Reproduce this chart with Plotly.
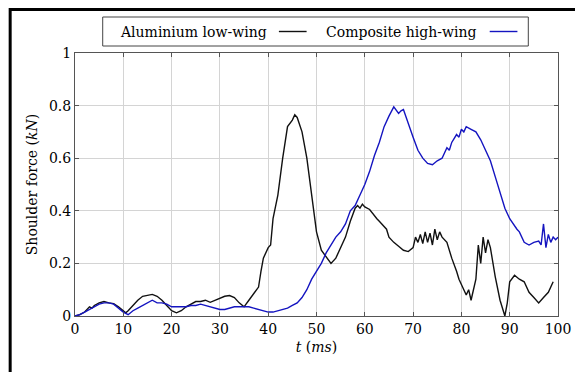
import plotly.graph_objects as go

# Aluminium low-wing (black)
t_al = [0, 1, 2, 3, 3.5, 4, 5, 6, 7, 8, 9, 10, 10.5, 11, 12, 13, 14, 15, 16, 17, 18, 19, 20, 21, 22, 23, 24,
        25, 26, 27, 28, 29, 30, 31, 32, 33, 34, 35, 36, 37, 38, 38.5, 39, 40, 40.5, 41, 42, 43, 44, 45, 45.5,
        46, 47, 48, 49, 50, 51, 52, 53, 54, 55, 56, 57, 58, 58.5, 59, 59.5, 60, 61, 62, 62.5, 63, 64, 64.5,
        65, 66, 67, 68, 69, 70, 70.5, 71, 71.5, 72, 72.5, 73, 73.5, 74, 74.5, 75, 75.5, 76, 77, 78, 79, 79.5,
        80, 81, 81.5, 82, 83, 83.5, 84, 84.5, 85, 85.5, 86, 87, 88, 89, 89.5, 90, 91, 92, 93, 94, 95, 96, 97,
        98, 99, 100]
v_al = [0.0, 0.005, 0.015, 0.035, 0.03, 0.04, 0.05, 0.055, 0.05, 0.047, 0.035, 0.02, 0.012, 0.02, 0.04, 0.06,
        0.075, 0.078, 0.082, 0.075, 0.06, 0.04, 0.02, 0.012, 0.02, 0.035, 0.045, 0.055, 0.055, 0.06, 0.052,
        0.06, 0.07, 0.075, 0.078, 0.07, 0.05, 0.035, 0.06, 0.085, 0.11, 0.17, 0.22, 0.26, 0.27, 0.37, 0.46,
        0.6, 0.72, 0.745, 0.765, 0.755, 0.7, 0.6, 0.45, 0.32, 0.25, 0.225, 0.2, 0.22, 0.26, 0.3, 0.36, 0.41,
        0.42, 0.41, 0.425, 0.415, 0.405, 0.38, 0.37, 0.36, 0.34, 0.33, 0.3, 0.28, 0.265, 0.25, 0.245, 0.26,
        0.3, 0.28, 0.31, 0.275, 0.32, 0.28, 0.315, 0.27, 0.33, 0.29, 0.32, 0.3, 0.28, 0.22, 0.17, 0.14,
        0.12, 0.08, 0.1, 0.06, 0.14, 0.27, 0.2, 0.3, 0.24, 0.29, 0.26, 0.15, 0.06, 0.0, 0.05, 0.13, 0.155,
        0.14, 0.13, 0.09, 0.07, 0.05, 0.07, 0.09, 0.13]

# Composite high-wing (blue)
t_co = [0, 1, 2, 3, 4, 5, 6, 7, 8, 9, 10, 11, 12, 13, 14, 15, 16, 17, 18, 19, 20, 21, 22, 23, 24, 25, 26,
        27, 28, 29, 30, 31, 32, 33, 34, 35, 36, 37, 38, 39, 40, 41, 42, 43, 44, 45, 46, 47, 48, 49, 50, 51,
        52, 53, 54, 55, 56, 57, 58, 59, 60, 61, 62, 63, 64, 65, 66, 67, 67.5, 68, 69, 70, 71, 72, 73, 74,
        75, 76, 77, 77.5, 78, 79, 79.5, 80, 80.5, 81, 82, 83, 84, 85, 86, 87, 88, 89, 90, 91, 91.5, 92, 93,
        94, 95, 96, 96.5, 97, 97.5, 98, 98.5, 99, 99.5, 100]
v_co = [0.0, 0.005, 0.015, 0.025, 0.035, 0.045, 0.05, 0.05, 0.045, 0.03, 0.015, 0.005, 0.02, 0.03, 0.04,
        0.05, 0.06, 0.05, 0.05, 0.045, 0.035, 0.035, 0.035, 0.035, 0.04, 0.04, 0.045, 0.04, 0.035, 0.03,
        0.025, 0.025, 0.03, 0.035, 0.035, 0.035, 0.035, 0.03, 0.025, 0.02, 0.015, 0.015, 0.02, 0.025, 0.03,
        0.04, 0.05, 0.07, 0.1, 0.14, 0.17, 0.2, 0.24, 0.27, 0.3, 0.32, 0.35, 0.4, 0.42, 0.46, 0.5, 0.55,
        0.61, 0.66, 0.72, 0.76, 0.795, 0.77, 0.78, 0.785, 0.73, 0.68, 0.63, 0.6, 0.58, 0.575, 0.59, 0.6,
        0.64, 0.63, 0.66, 0.69, 0.68, 0.71, 0.7, 0.72, 0.71, 0.7, 0.67, 0.63, 0.59, 0.53, 0.47, 0.41,
        0.37, 0.34, 0.33, 0.32, 0.28, 0.27, 0.28, 0.285, 0.27, 0.35, 0.26, 0.31, 0.28, 0.3, 0.29, 0.3]

series_names = ["Aluminium low-wing", "Composite high-wing"]
series_colors = ["#111111", "#1414c0"]

x_ticks = [0, 10, 20, 30, 40, 50, 60, 70, 80, 90, 100]
y_ticks = [0, 0.2, 0.4, 0.6, 0.8, 1]
y_tick_labels = ["0", "0.2", "0.4", "0.6", "0.8", "1"]

FONT = "DejaVu Serif"

fig = go.Figure()
fig.add_trace(go.Scatter(x=t_al, y=v_al, mode="lines", name=series_names[0],
                         line=dict(color=series_colors[0], width=1.4), showlegend=False))
fig.add_trace(go.Scatter(x=t_co, y=v_co, mode="lines", name=series_names[1],
                         line=dict(color=series_colors[1], width=1.4), showlegend=False))

OFF = 8  # page body margin offset
W, H = 583 - OFF, 372 - OFF
L, R, T, B = 75 - OFF, 563 - OFF, 53 - OFF, 316 - OFF
pw, ph = R - L, B - T


def px(x):
    return (x - OFF - L) / pw


def py(y):
    return (B - (y - OFF)) / ph


shapes = []
# outer frame (top and left thick lines)
shapes.append(dict(type="line", xref="paper", yref="paper", x0=px(9.5), x1=px(583), y0=py(9.5), y1=py(9.5),
                   line=dict(color="black", width=3)))
shapes.append(dict(type="line", xref="paper", yref="paper", x0=px(9.5), x1=px(9.5), y0=py(8), y1=py(372),
                   line=dict(color="black", width=3)))
# legend box
shapes.append(dict(type="rect", xref="paper", yref="paper", x0=px(103), x1=px(533), y0=py(17), y1=py(46),
                   line=dict(color="#444444", width=1), fillcolor="white"))
# legend sample lines
shapes.append(dict(type="line", xref="paper", yref="paper", x0=px(281), x1=px(309), y0=py(31.5), y1=py(31.5),
                   line=dict(color=series_colors[0], width=1.4)))
shapes.append(dict(type="line", xref="paper", yref="paper", x0=px(494), x1=px(522), y0=py(31.5), y1=py(31.5),
                   line=dict(color=series_colors[1], width=1.4)))

annotations = [
    dict(text=series_names[0], xref="paper", yref="paper", x=px(118), y=py(31.5), xanchor="left",
         yanchor="middle", showarrow=False, font=dict(family=FONT, size=14, color="black")),
    dict(text=series_names[1], xref="paper", yref="paper", x=px(327), y=py(31.5), xanchor="left",
         yanchor="middle", showarrow=False, font=dict(family=FONT, size=14, color="black")),
]

fig.update_layout(
    width=W, height=H,
    margin=dict(l=L, r=W - R, t=T, b=H - B),
    paper_bgcolor="white", plot_bgcolor="white",
    font=dict(family=FONT, size=14, color="black"),
    shapes=shapes, annotations=annotations,
    showlegend=False,
)
fig.update_xaxes(
    range=[0, 100], tickvals=x_ticks, ticks="inside", ticklen=4, tickcolor="#555555",
    showgrid=True, gridcolor="#d4d4d4", gridwidth=1, zeroline=False,
    showline=True, linecolor="#555555", linewidth=1, mirror="allticks",
    title=dict(text="<i>t</i> (<i>ms</i>)", standoff=6, font=dict(family=FONT, size=14)),
    tickfont=dict(family=FONT, size=14),
)
fig.update_yaxes(
    range=[0, 1], tickvals=y_ticks, ticktext=y_tick_labels, ticks="inside", ticklen=4, tickcolor="#555555",
    showgrid=True, gridcolor="#d4d4d4", gridwidth=1, zeroline=False,
    showline=True, linecolor="#555555", linewidth=1, mirror="allticks",
    title=dict(text="Shoulder force (<i>kN</i>)", standoff=8, font=dict(family=FONT, size=14)),
    tickfont=dict(family=FONT, size=14),
)

fig.write_html("out.html")
